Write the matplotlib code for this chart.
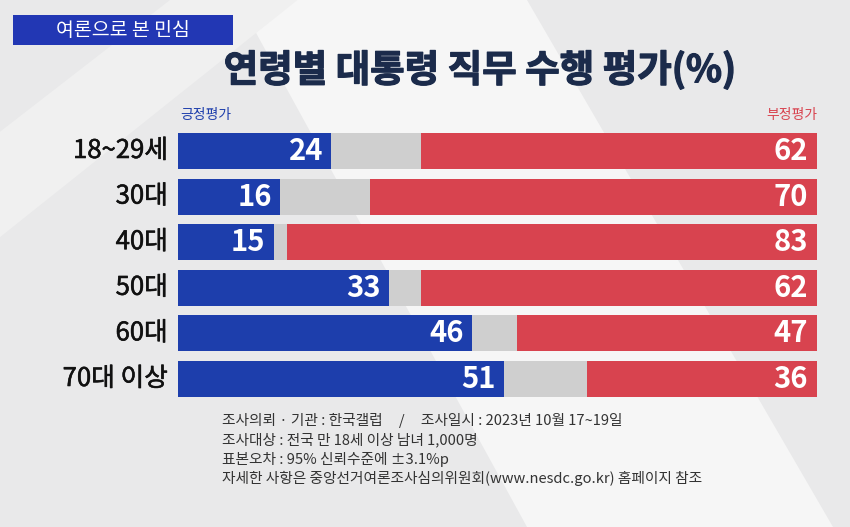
import numpy as np
import matplotlib
matplotlib.use('Agg')
import matplotlib.pyplot as plt
import matplotlib.patheffects as pe
from matplotlib.patches import Rectangle, Polygon

plt.rcParams['font.family'] = ['Noto Sans CJK KR', 'DejaVu Sans']

ages = ['18~29세', '30대', '40대', '50대', '60대', '70대 이상']
positive = [24, 16, 15, 33, 46, 51]
negative = [62, 70, 83, 62, 47, 36]
other = [100 - p - n for p, n in zip(positive, negative)]

title = '연령별 대통령 직무 수행 평가(%)'
badge = '여론으로 본 민심'
notes = [
    '조사의뢰 · 기관 : 한국갤럽     /     조사일시 : 2023년 10월 17~19일',
    '조사대상 : 전국 만 18세 이상 남녀 1,000명',
    '표본오차 : 95% 신뢰수준에 ±3.1%p',
    '자세한 사항은 중앙선거여론조사심의위원회(www.nesdc.go.kr) 홈페이지 참조',
]

BLUE = '#1d3eac'
RED = '#d8434f'
GRAY = '#cfcfcf'
NAVY = '#1b2b4b'

fig = plt.figure(figsize=(8.5, 5.27), dpi=100)
fig.patch.set_facecolor('#e9e9ea')

# background light streaks, kept behind everything
bg = fig.add_axes([0, 0, 1, 1], zorder=-10)
bg.set_xlim(0, 1)
bg.set_ylim(0, 1)
bg.axis('off')
bg.add_patch(Polygon([[0.28, 1.0], [0.62, 1.0], [0.98, 0.0], [0.62, 0.0]],
                     closed=True, facecolor='#f6f6f6', edgecolor='none'))
bg.add_patch(Polygon([[0.0, 0.75], [0.2, 1.0], [0.35, 1.0], [0.0, 0.55]],
                     closed=True, facecolor='#f0f0f0', edgecolor='none'))

# badge
bg.add_patch(Rectangle((13 / 850, 1 - 45 / 527), 220 / 850, 30 / 527,
                       facecolor='#2237b4', edgecolor='none'))
fig.text(123 / 850, 1 - 30 / 527, badge, color='white', fontsize=14,
         ha='center', va='center')

fig.text(480 / 850, 1 - 70 / 527, title, color=NAVY, fontsize=27,
         fontweight='bold', ha='center', va='center',
         path_effects=[pe.withStroke(linewidth=0.9, foreground=NAVY)])

ax = fig.add_axes([178 / 850, 1 - 401.8 / 527, 639 / 850, 273.6 / 527])
ax.set_facecolor('none')
y = np.arange(len(ages))
h = 0.79
ax.barh(y, positive, height=h, color=BLUE)
ax.barh(y, other, left=positive, height=h, color=GRAY)
ax.barh(y, negative, left=[p + o for p, o in zip(positive, other)],
        height=h, color=RED)
ax.set_xlim(0, 100)
ax.set_ylim(len(ages) - 0.5, -0.5)
ax.axis('off')

for i in y:
    ax.text(positive[i] - 1.3, i, str(positive[i]), color='white', fontsize=21,
            fontweight='bold', ha='right', va='center')
    ax.text(98.6, i, str(negative[i]), color='white', fontsize=21,
            fontweight='bold', ha='right', va='center')
    ax.text(-1.6, i, ages[i], color='#111111', fontsize=18.5,
            ha='right', va='center',
            path_effects=[pe.withStroke(linewidth=0.4, foreground='#111111')])

fig.text(180 / 850, 1 - 115 / 527, '긍정평가', color=BLUE, fontsize=10,
         ha='left', va='center')
fig.text(817 / 850, 1 - 115 / 527, '부정평가', color=RED, fontsize=10,
         ha='right', va='center')

for k, line in enumerate(notes):
    fig.text(222 / 850, 1 - (421 + k * 19.3) / 527, line, color='#333333',
             fontsize=10.6, ha='left', va='center')

fig.savefig('out.png', dpi=100, facecolor=fig.get_facecolor())
